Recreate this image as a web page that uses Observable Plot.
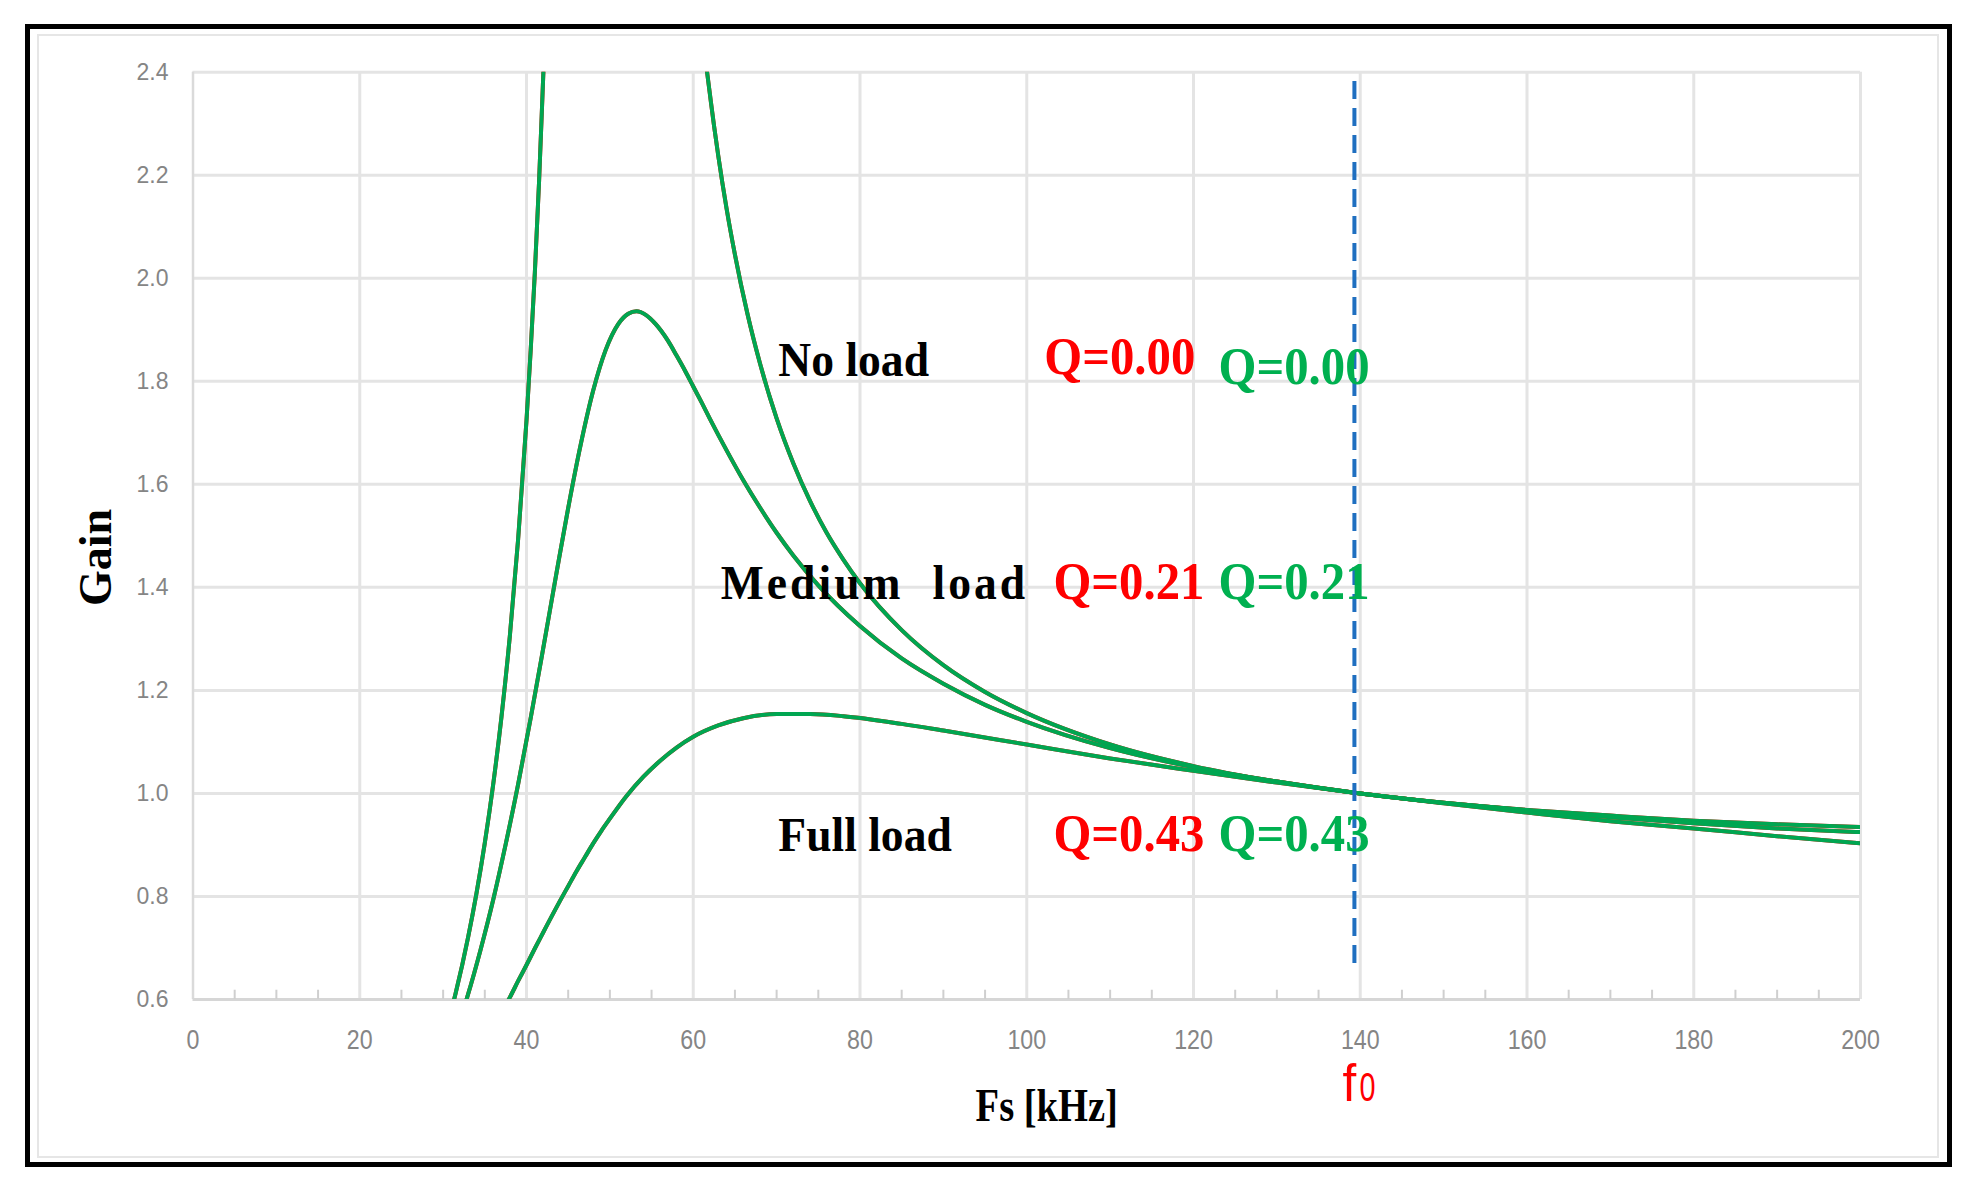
<!DOCTYPE html>
<html>
<head>
<meta charset="utf-8">
<script src="https://cdn.jsdelivr.net/npm/d3@7"></script>
<script src="https://cdn.jsdelivr.net/npm/@observablehq/plot@0.6"></script>
<style>
  html, body { margin: 0; padding: 0; background: #fff; width: 1971px; height: 1190px; overflow: hidden; }
  #chart { position: absolute; left: 0; top: 0; z-index: 1; }
  #frame { position: absolute; left: 25px; top: 24px; width: 1917px; height: 1133px; border: 5px solid #000; z-index: 2; pointer-events: none; }
  #inner { position: absolute; left: 37px; top: 34px; width: 1898px; height: 1120px; border: 2px solid #e6e6e6; z-index: 2; pointer-events: none; }
</style>
</head>
<body>
<div id="chart"></div>
<div id="frame"></div>
<div id="inner"></div>
<script>
// ---- data ----
const xTicks = [0, 20, 40, 60, 80, 100, 120, 140, 160, 180, 200];
const yTicks = [0.6, 0.8, 1.0, 1.2, 1.4, 1.6, 1.8, 2.0, 2.2, 2.4];
const yTickLabels = ["0.6", "0.8", "1.0", "1.2", "1.4", "1.6", "1.8", "2.0", "2.2", "2.4"];
const minorTicks = [5, 10, 15, 25, 30, 35, 45, 50, 55, 65, 70, 75, 85, 90, 95, 105, 110, 115, 125, 130, 135, 145, 150, 155, 165, 170, 175, 185, 190, 195];

// No load (Q=0.00): two branches either side of the pole
const noLoadLowF = [31, 31.5, 33, 34, 35, 36, 37, 38, 39, 40, 40.5, 41, 41.5, 42, 42.3];
const noLoadLowG = [0.58, 0.612, 0.721, 0.806, 0.904, 1.017, 1.149, 1.305, 1.494, 1.724, 1.860, 2.011, 2.185, 2.39, 2.51];
const noLoadHighF = [61.5, 62, 62.5, 63, 64, 65, 66.5, 68, 70, 72, 74, 76, 78, 80, 85, 90, 95, 100, 110, 120, 130, 140, 150, 160, 170, 180, 190, 200];
const noLoadHighG = [2.42, 2.357, 2.295, 2.238, 2.135, 2.046, 1.931, 1.835, 1.728, 1.641, 1.568, 1.506, 1.454, 1.408, 1.317, 1.249, 1.197, 1.156, 1.095, 1.053, 1.023, 1.000, 0.982, 0.968, 0.957, 0.947, 0.940, 0.935];

// Medium load (Q=0.21)
const mediumF = [32.5, 32.9, 34.5, 36, 37.5, 39, 40.5, 42, 43.6, 45, 46.5, 48, 49.5, 51, 52.2, 53.2, 54.3, 55.5, 57, 58, 59, 60, 61, 62, 63, 64, 66, 68, 70, 72, 75, 80, 85, 90, 95, 100, 110, 120, 130, 140, 150, 160, 170, 180, 190, 200];
const mediumG = [0.584, 0.605, 0.697, 0.793, 0.901, 1.018, 1.146, 1.281, 1.428, 1.554, 1.677, 1.782, 1.861, 1.911, 1.931, 1.936, 1.929, 1.911, 1.878, 1.850, 1.821, 1.790, 1.759, 1.727, 1.696, 1.666, 1.608, 1.555, 1.506, 1.462, 1.404, 1.325, 1.262, 1.213, 1.172, 1.139, 1.088, 1.051, 1.023, 1.000, 0.982, 0.967, 0.954, 0.942, 0.932, 0.925];

// Full load (Q=0.43)
const fullF = [37.5, 38, 39, 40, 41, 42, 43, 44, 45, 46, 47, 48, 49, 50, 52, 54, 56, 58, 60, 63, 66, 70, 74, 78, 85, 90, 100, 110, 120, 130, 140, 150, 160, 170, 180, 190, 200];
const fullG = [0.589, 0.604, 0.636, 0.667, 0.699, 0.730, 0.761, 0.791, 0.820, 0.849, 0.876, 0.903, 0.928, 0.951, 0.995, 1.032, 1.063, 1.089, 1.110, 1.132, 1.146, 1.154, 1.154, 1.150, 1.135, 1.122, 1.095, 1.068, 1.044, 1.021, 1.000, 0.981, 0.963, 0.946, 0.932, 0.917, 0.903];

// resonant frequency marker
const f0Value = 139.3;
const f0Bottom = 0.67;
const f0Top = 2.39;

// annotation labels
const loadNames = ["No load", "Medium\u00a0\u00a0load", "Full load"];
const loadF = [70.2, 63.3, 70.2];
const loadG = [1.811, 1.378, 0.889];
const qTexts = ["Q=0.00", "Q=0.21", "Q=0.43"];
const qRedF = [102.1, 103.2, 103.2];
const qRedG = [1.815, 1.378, 0.889];
const qGreenF = [123.0, 123.0, 123.0];
const qGreenG = [1.794, 1.378, 0.889];

// ---- build tables ----
const seriesList = [
  {key: "noLow", f: noLoadLowF, g: noLoadLowG},
  {key: "noHigh", f: noLoadHighF, g: noLoadHighG},
  {key: "medium", f: mediumF, g: mediumG},
  {key: "full", f: fullF, g: fullG}
];
const rows = seriesList.flatMap(s => s.f.map((f, i) => ({key: s.key, f, g: s.g[i]})));
const loadLabels = loadNames.map((t, i) => ({text: t, f: loadF[i], g: loadG[i]}));
const redLabels = qTexts.map((t, i) => ({text: t, f: qRedF[i], g: qRedG[i]}));
const greenLabels = qTexts.map((t, i) => ({text: t, f: qGreenF[i], g: qGreenG[i]}));
const yTickRows = yTicks.map((v, i) => ({v, label: yTickLabels[i]}));

const GREEN = "#00a651";
const GREEN_TXT = "#00b050";
const RED = "#ff0000";
const GRID = "#e4e4e4";
const TICKTXT = "#858585";
const SERIF = "'Liberation Serif', 'DejaVu Serif', serif";
const SANS = "'Liberation Sans', Arial, sans-serif";

const svg = Plot.plot({
  width: 1971,
  height: 1190,
  marginLeft: 192.5,
  marginRight: 111,
  marginTop: 71.7,
  marginBottom: 191,
  x: {domain: [0, 200], axis: null},
  y: {domain: [0.6, 2.4], axis: null},
  marks: [
    // grid
    Plot.ruleY(yTicks.slice(1), {y: d => d, stroke: GRID, strokeWidth: 3}),
    Plot.ruleX(xTicks.slice(1), {x: d => d, stroke: GRID, strokeWidth: 3}),
    Plot.ruleX([0], {x: d => d, stroke: "#dadada", strokeWidth: 2.5}),
    Plot.ruleY([0.6], {y: d => d, stroke: "#d6d6d6", strokeWidth: 3}),
    Plot.ruleX(minorTicks, {x: d => d, y1: 0.6, y2: 0.618, stroke: "#cfcfcf", strokeWidth: 2}),
    // curves (red calculated series underneath, green on top)
    Plot.line(rows, {x: "f", y: "g", z: "key", stroke: RED, strokeWidth: 4, curve: "monotone-x", clip: true}),
    Plot.line(rows, {x: "f", y: "g", z: "key", stroke: GREEN, strokeWidth: 4, curve: "monotone-x", clip: true}),
    // f0 marker
    Plot.ruleX([f0Value], {x: d => d, y1: f0Bottom, y2: f0Top, stroke: "#1f6fc0", strokeWidth: 4, strokeDasharray: "18,9"}),
    // annotations
    Plot.text(loadLabels, {x: "f", y: "g", text: "text", textAnchor: "start", lineAnchor: "bottom", fontSize: 48, fontWeight: "bold", fontFamily: SERIF, fill: "#000"}),
    Plot.text(redLabels, {x: "f", y: "g", text: "text", textAnchor: "start", lineAnchor: "bottom", fontSize: 53, fontWeight: "bold", fontFamily: SERIF, fill: RED}),
    Plot.text(greenLabels, {x: "f", y: "g", text: "text", textAnchor: "start", lineAnchor: "bottom", fontSize: 53, fontWeight: "bold", fontFamily: SERIF, fill: GREEN_TXT}),
    // tick labels
    Plot.text(yTickRows, {x: 0, y: "v", text: "label", dx: -24.5, textAnchor: "end", lineAnchor: "middle", fontSize: 23, fontFamily: SANS, fill: TICKTXT}),
    Plot.text(xTicks, {x: d => d, y: 0.6, text: d => String(d), dy: 41, textAnchor: "middle", lineAnchor: "middle", fontSize: 27, fontFamily: SANS, fill: TICKTXT}),
    // axis titles
    Plot.text(["Gain"], {x: 0, y: 1.458, text: d => d, dx: -97, rotate: -90, textAnchor: "middle", lineAnchor: "middle", fontSize: 46, fontWeight: "bold", fontFamily: SERIF, fill: "#000"}),
    Plot.text(["Fs [kHz]"], {x: 102.4, y: 0.6, text: d => d, dy: 121, textAnchor: "middle", lineAnchor: "bottom", fontSize: 47, fontWeight: "bold", fontFamily: SERIF, fill: "#000"}),
    // f0 label
    Plot.text(["f"], {x: f0Value, y: 0.6, text: d => d, dx: -12, dy: 101, textAnchor: "start", lineAnchor: "bottom", fontSize: 52, fontFamily: SANS, fill: RED}),
    Plot.text(["0"], {x: f0Value, y: 0.6, text: d => d, dx: 5, dy: 101, textAnchor: "start", lineAnchor: "bottom", fontSize: 40, fontFamily: SANS, fill: RED})
  ]
});

// narrow the glyphs like the reference (which is horizontally compressed)
const scaleBySize = {"27": 0.86, "53": 0.92, "47": 0.82, "48": 0.95, "40": 0.72, "52": 0.95};
svg.querySelectorAll("text").forEach(t => {
  const holder = t.closest("[font-size]");
  const fs = holder ? holder.getAttribute("font-size") : null;
  const sx = scaleBySize[fs];
  if (sx) t.setAttribute("transform", (t.getAttribute("transform") || "") + ` scale(${sx},1)`);
  if (t.textContent.startsWith("Medium")) t.style.letterSpacing = "3.2px";
});

document.getElementById("chart").appendChild(svg);
</script>
</body>
</html>
